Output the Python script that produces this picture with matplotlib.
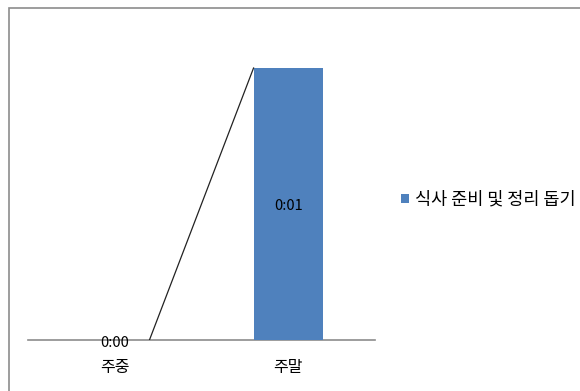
import matplotlib
matplotlib.use("Agg")
import matplotlib.pyplot as plt
from matplotlib.patches import Rectangle

plt.rcParams['font.family'] = ['Noto Sans CJK KR', 'DejaVu Sans']

# data (minutes)
categories = ['주중', '주말']
values = [0, 1]
value_labels = ['0:00', '0:01']
series_name = '식사 준비 및 정리 돕기'

W, H = 580, 391
fig = plt.figure(figsize=(W / 100, H / 100), dpi=100)

# outer chart border (right/bottom run past the image edge)
fig.patches.append(Rectangle((9 / W, -0.1), 1.2, 1 - 8 / H + 0.1, transform=fig.transFigure,
                             fill=False, edgecolor='#8c8c8c', lw=1.2))

# plot area in pixels: x 28..375, y 40..340 (from top)
ax = fig.add_axes([28 / W, 1 - 340 / H, (375 - 28) / W, (340 - 40) / H])
x = list(range(len(categories)))
bw = 0.4
bars = ax.bar(x, values, width=bw, color='#4F81BD', label=series_name, zorder=2)

# series line between bar tops
ax.plot([x[0] + bw / 2, x[1] - bw / 2], [values[0], values[1]], color='#222222', lw=0.9, zorder=3)

ax.set_xlim(-0.5, 1.5)
ax.set_ylim(0, 1.103)
for s in ['top', 'right', 'left']:
    ax.spines[s].set_visible(False)
ax.spines['bottom'].set_color('#8c8c8c')
ax.spines['bottom'].set_linewidth(1.2)
ax.spines['bottom'].set_zorder(1)
ax.set_yticks([])
ax.set_xticks(x)
ax.set_xticklabels(categories, fontsize=11.5)
ax.tick_params(axis='x', length=0, pad=14)

# data labels
ax.annotate(value_labels[0], (x[0], values[0]), xytext=(0, -2), textcoords='offset points',
            ha='center', va='center', fontsize=10.5, zorder=4)
ax.annotate(value_labels[1], (x[1], values[1] / 2), xytext=(0, -1.5), textcoords='offset points',
            ha='center', va='center', fontsize=10.5, zorder=4)

fig.legend(handles=[bars], labels=[series_name], loc='center left',
           bbox_to_anchor=(385 / W, 1 - 200 / H), frameon=False, fontsize=12.6,
           handlelength=0.45, handleheight=0.45, handletextpad=0.35)

fig.savefig('out.png', dpi=100)
